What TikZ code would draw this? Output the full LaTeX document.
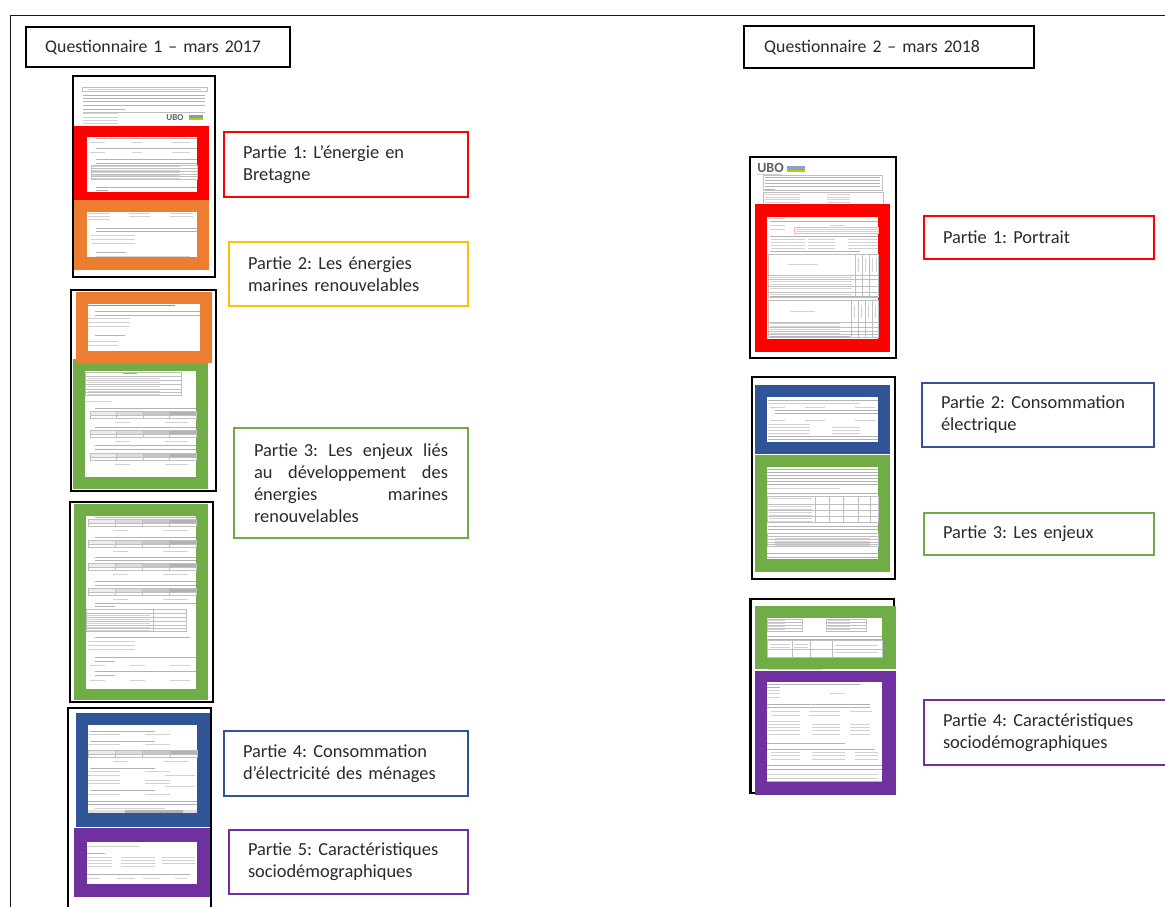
\documentclass[tikz,border=0pt]{standalone}
\usepackage{fontspec}
\setmainfont[WordSpace=0.55]{Carlito}
\frenchspacing
\definecolor{cred}{HTML}{FF0000}
\definecolor{corange}{HTML}{ED7D31}
\definecolor{cyellow}{HTML}{FFC000}
\definecolor{cgreen}{HTML}{70AD47}
\definecolor{cblue}{HTML}{2F5597}
\definecolor{cpurple}{HTML}{7030A0}
\definecolor{ctxt}{HTML}{2A2A2A}
\tikzset{
  x=1pt,y=-1pt,
  sheet/.style={draw=black,line width=2.6pt,fill=white},
  titlebox/.style={draw=black,line width=2.4pt,anchor=north west,inner sep=0pt,align=left,text=ctxt,font=\fontsize{17.8}{22}\selectfont},
  partbox/.style={line width=2pt,fill=white,anchor=north west,inner xsep=19pt,inner ysep=0pt,align=left,text=ctxt,font=\fontsize{18.4}{22}\selectfont},
  tl/.style={draw=gray!60,line width=0.8pt},
  tlf/.style={draw=gray!35,line width=0.7pt},
  tg/.style={draw=gray!50,line width=0.4pt},
  logo/.style={inner sep=0pt,font=\bfseries,text=gray!75!black},
}
% text lines: x0, x1, list of y
\newcommand{\mlines}[3]{\foreach \yy in {#3} \draw[tl] (#1,\yy) -- (#2,\yy);}
\newcommand{\flines}[3]{\foreach \yy in {#3} \draw[tlf] (#1,\yy) -- (#2,\yy);}
% gridded table: x0, x1, y0, y1, row step
\newcommand{\mtab}[5]{\draw[tg] (#1,#3) rectangle (#2,#4);
  \foreach \yy in {#5} \draw[tg] (#1,\yy) -- (#2,\yy);}
% scale table: x0, x1, y
\newcommand{\mscale}[3]{%
  \pgfmathsetmacro{\mcw}{(#2-#1)/4}%
  \pgfmathsetmacro{\xa}{#1+\mcw}\pgfmathsetmacro{\xb}{#1+2*\mcw}\pgfmathsetmacro{\xc}{#1+3*\mcw}%
  \fill[gray!15] (#1,#3) rectangle (\xa,#3+4);
  \fill[gray!28] (\xa,#3) rectangle (\xb,#3+4);
  \fill[gray!45] (\xb,#3) rectangle (\xc,#3+4);
  \fill[gray!60] (\xc,#3) rectangle (#2,#3+4);
  \draw[tg] (#1,#3) rectangle (#2,#3+7);
  \draw[tg] (#1,#3+4) -- (#2,#3+4);
  \foreach \xx in {\xa,\xb,\xc} \draw[tg] (\xx,#3) -- (\xx,#3+7);
  \draw[tlf] (#1+25,#3+11) -- (#1+40,#3+11);
  \draw[tlf] (#1+75,#3+11) -- (#2-8,#3+11);
}
\begin{document}
\begin{tikzpicture}
\useasboundingbox (0,0) rectangle (1165,907);
\clip (0,0) rectangle (1165,907);
\fill[white] (0,0) rectangle (1165,907);

% outer frame
\draw[black!90,line width=1.9pt] (10.5,907) -- (10.5,15.5) -- (1165,15.5);

% title boxes
\node[titlebox,minimum width=264pt,minimum height=40pt,text width=264pt] (q1) at (25,26) {\hspace*{19pt}Questionnaire 1 – mars 2017};
\node[titlebox,minimum width=290pt,minimum height=42pt,text width=290pt] (q2) at (743,25) {\hspace*{20pt}Questionnaire 2 – mars 2018};

% ---------- page 1
\draw[sheet] (73,76) rectangle (215,277);
\draw[tg] (82,87) rectangle (207,91);
\flines{88}{201}{89}
\mlines{83}{205}{95,98,101,105}
\draw[tl] (83,109) -- (125,109);
\draw[tl] (190,105.5) -- (205,105.5);
\flines{83}{118}{113,117,120,123}
\draw[tg] (83,112) -- (205,112);
\node[logo,font=\bfseries\fontsize{9}{9}\selectfont] (l1) at (175,118) {UBO};
\fill[cblue!60] (189,115) rectangle (203,118);
\fill[cyellow!70!green] (189,118) rectangle (203,120);
\fill[cred] (74,126) rectangle (209,200);
\fill[white] (87,137) rectangle (197,192);
\mlines{96}{197}{138,148,159,163,187}
\flines{90}{105}{142,152}
\flines{132}{142}{142,152}
\flines{172}{190}{142,152}
\mtab{91}{197}{165}{179}{168,171,174,176}
\flines{92}{180}{166.5,170,172.5,175,178}
\draw[tl] (96,190.5) -- (108,190.5);
\fill[corange] (74,200) rectangle (209,270);
\fill[white] (87,212) rectangle (197,257);
\flines{88}{110}{213,216,219}
\flines{129}{150}{213,216}
\flines{170}{193}{213,216}
\mlines{96}{197}{228,231}
\flines{91}{135}{235,239,243}
\draw[tl] (96,252) -- (126,252);
\flines{96}{190}{256}

% ---------- page 2
\draw[sheet] (71,290) rectangle (216,491);
\fill[white] (73,292) rectangle (214,489);
\fill[cgreen] (73,359) rectangle (208,489);
\fill[corange] (76,292) rectangle (212,363);
\fill[white] (88,304) rectangle (200,351);
\draw[cred!60,line width=0.7pt] (88,305) -- (175,305);
\mlines{95}{200}{311,315}
\flines{88}{130}{318,322,326}
\draw[tl] (95,335) -- (125,335);
\flines{88}{118}{341,345}
\fill[white] (85,371) rectangle (196,477);
\mtab{85}{181}{372}{395}{376,380,384.5,389,392}
\flines{88}{160}{378,382,386.5,391,394}
\draw[gray!70,line width=0.8pt] (123,373.5) -- (137,373.5);
\flines{85}{112}{401}
\mlines{95}{196}{408,427,445,449}
\mscale{90}{196}{411}
\mscale{90}{196}{430}
\mscale{90}{196}{453}

% ---------- page 3
\draw[sheet] (70,502) rectangle (213,702);
\fill[cgreen] (74,504) rectangle (208,700);
\fill[white] (86,516) rectangle (196,689);
\mlines{95}{196}{517,537,557,560,581,585}
\mscale{88}{196}{519}
\mscale{88}{196}{540}
\mscale{88}{196}{563}
\mscale{88}{196}{588}
\mlines{95}{196}{603}
\draw[tl] (95,606) -- (115,606);
\mtab{86}{186}{609}{631}{613,617,621,625,628}
\draw[tg] (153,609) -- (153,631);
\flines{87}{150}{615,619,623,627,630}
\mlines{95}{190}{637}
\flines{88}{135}{641,645,649}
\mlines{95}{196}{657,671}
\draw[tl] (95,661) -- (115,661);
\draw[tl] (95,675) -- (115,675);
\flines{90}{105}{665,680}
\flines{130}{145}{665,680}
\flines{170}{190}{665,680}

% ---------- page 4
\draw[sheet] (68,708) rectangle (211,915);
\fill[cblue] (76,713) rectangle (210,827);
\fill[white] (88,725) rectangle (197,813);
\mlines{90}{155}{731,741,768,790}
\flines{88}{120}{734,744,771,775,780,783,794}
\flines{145}{170}{734,744,771,780,783,794}
\flines{165}{195}{775,786}
\mscale{88}{197}{750}
\mlines{88}{197}{801,804}
\flines{95}{165}{808}
\fill[gray!25] (88,810) rectangle (197,813);
\fill[gray!60] (125,810) rectangle (183,813);
\flines{88}{120}{829}
\fill[cpurple] (74,828) rectangle (210,897);
\fill[white] (87,842) rectangle (197,884);
\flines{87}{140}{846}
\draw[tl] (87,853) -- (105,853);
\flines{87}{112}{857,860,863,866}
\flines{121}{155}{857,860,863,866}
\flines{162}{195}{857,860,863}
\mlines{87}{190}{874}
\flines{87}{100}{878}
\flines{117}{135}{878}
\flines{143}{160}{878}
\flines{175}{187}{878}

% ---------- right page 1
\draw[sheet] (750,157) rectangle (896,358);
\node[logo,font=\bfseries\fontsize{14}{14}\selectfont] (l2) at (770.5,168) {UBO};
\fill[cblue!55] (787,166) rectangle (805,169.5);
\fill[cyellow!70!green] (787,169.5) rectangle (805,172);
\draw[tlf] (757,174) -- (782,174);
\draw[tg] (763,175) rectangle (882,190);
\mlines{765}{880}{177,180,183,186}
\draw[tl] (765,189) -- (775,189);
\draw[tg] (763,192) rectangle (883,205);
\flines{765}{800}{194,197,199.5,202}
\flines{827}{850}{194,197,199.5,202}
\fill[cred] (755,204) rectangle (890,352);
\fill[white] (767,217) rectangle (878,339);
\flines{768}{785}{218}
\mlines{770}{878}{221,236}
\flines{770}{785}{225,229}
\flines{830}{845}{225}
\draw[cred!30,line width=0.5pt] (794,227) rectangle (878,233);
\flines{796}{878}{229,231.5}
\flines{771}{805}{239,242,245,248}
\flines{808}{835}{239,242,245,248}
\flines{848}{878}{239,242,245,248}
\mlines{770}{860}{251}
\mtab{768}{878}{254}{297}{275,279,286,292}
\foreach \xx in {855,862,869} \draw[tg] (\xx,254) -- (\xx,297);
\foreach \xx in {858,865,872,876} \draw[tlf] (\xx,258) -- (\xx,272);
\flines{788}{818}{264}
\flines{770}{852}{277,281,284,288,294}
\mlines{770}{878}{296}
\mtab{768}{878}{300}{337}{322,327,331,334}
\foreach \xx in {851,858,865,872} \draw[tg] (\xx,300) -- (\xx,337);
\foreach \xx in {854,861,868,875} \draw[tlf] (\xx,305) -- (\xx,318);
\flines{790}{815}{311}
\flines{770}{840}{323,326,329,333}
\mlines{770}{850}{336}

% ---------- right page 2
\draw[sheet] (752,377) rectangle (895,579);
\fill[cblue] (755,385) rectangle (890,454);
\fill[white] (767,397) rectangle (878,442);
\mlines{768}{878}{400}
\flines{768}{860}{403}
\flines{770}{785}{407,420}
\flines{805}{825}{407,420}
\flines{855}{875}{407,420}
\mlines{775}{878}{410,413}
\flines{768}{810}{424,427,430,433}
\flines{832}{860}{427,430,433}
\mlines{768}{878}{436,439}
\fill[cgreen] (755,455) rectangle (890,572);
\fill[white] (767,467) rectangle (878,559);
\mlines{767}{878}{469,472,475,478,481,484}
\flines{767}{840}{488}
\mlines{767}{878}{493}
\mtab{767}{878}{496}{522}{504,510,516}
\foreach \xx in {815,829,843,858,870} \draw[tg] (\xx,496) -- (\xx,522);
\flines{769}{812}{498,506,509,512,515,518,521}
\mlines{768}{878}{526,529}
\mtab{767}{878}{533}{546}{536,539,542,544}
\flines{775}{870}{538,541,543,545}
\mlines{767}{878}{553,557}

% ---------- right page 3
\draw[black,line width=2.6pt,fill=white] (894,793) -- (750.5,793) -- (750.5,599) -- (894,599) -- cycle;
\fill[cgreen] (755,606) rectangle (895.5,669);
\fill[white] (767,618) rectangle (882,657);
\mtab{767}{802}{619}{631}{622,625,628}
\mtab{826}{866}{619}{631}{622,625,628}
\flines{768}{785}{620.5,623.5,626.5,629.5}
\flines{828}{850}{620.5,623.5,626.5,629.5}
\mlines{767}{882}{636,639}
\mtab{767}{882}{640}{657}{649}
\foreach \xx in {792,810,832} \draw[tg] (\xx,640) -- (\xx,657);
\flines{770}{790}{644,647}
\flines{794}{808}{644,647}
\flines{835}{878}{645}
\flines{835}{878}{652}
\fill[white] (755,669) rectangle (895.5,671);
\flines{767}{822}{669.6}
\fill[cpurple] (755,671) rectangle (895.5,795);
\fill[white] (767,682) rectangle (882,782);
\mlines{767}{860}{684}
\draw[tl] (767,687) -- (780,687);
\flines{767}{780}{690,693,697}
\flines{830}{845}{693}
\mlines{767}{870}{704,707}
\flines{771}{800}{711,715}
\flines{809}{840}{711,715}
\flines{850}{872}{711}
\flines{768}{800}{721,724,727,730,734}
\flines{812}{840}{724,727,730,734}
\flines{850}{870}{724,727,730,734}
\mlines{767}{845}{743}
\mlines{767}{875}{749}
\flines{771}{800}{752,755,759}
\flines{812}{845}{752,755,759}
\flines{855}{878}{752,755,759}
\mlines{767}{882}{765,769}
\flines{767}{878}{774,778}
\draw[tl] (767,781) -- (882,781);

% ---------- labels left
\node[partbox,draw=cred,minimum width=244pt,minimum height=65pt,text width=206pt] (p1) at (223,131) {Partie 1: L’énergie en\\Bretagne};
\node[partbox,draw=cyellow,minimum width=239pt,minimum height=64pt,text width=201pt] (p2) at (228,241) {Partie 2: Les énergies\\marines renouvelables};
\node[partbox,draw=cgreen,minimum width=234pt,minimum height=110pt,text width=194pt,inner xsep=20pt] (p3) at (233,427) {Partie 3:\hfill Les\hfill enjeux\hfill liés\\au\hfill développement\hfill des\\énergies\hfill marines\\renouvelables};
\node[partbox,draw=cblue,minimum width=244pt,minimum height=65pt,text width=206pt] (p4) at (223,730) {Partie 4: Consommation\\d’électricité des ménages};
\node[partbox,draw=cpurple,minimum width=239pt,minimum height=64pt,text width=201pt] (p5) at (228,829) {Partie 5: Caractéristiques\\sociodémographiques};

% ---------- labels right
\node[partbox,draw=cred,minimum width=230pt,minimum height=43pt,text width=192pt] (r1) at (923,215) {Partie 1: Portrait};
\node[partbox,draw=cblue,minimum width=232pt,minimum height=64pt,text width=194pt] (r2) at (921,382) {Partie 2: Consommation\\électrique};
\node[partbox,draw=cgreen,minimum width=230pt,minimum height=42pt,text width=192pt] (r3) at (923,512) {Partie 3: Les enjeux};
\node[partbox,draw=cpurple,minimum width=250pt,minimum height=65pt,text width=212pt] (r4) at (923,699) {Partie 4: Caractéristiques\\sociodémographiques};
\end{tikzpicture}
\end{document}
